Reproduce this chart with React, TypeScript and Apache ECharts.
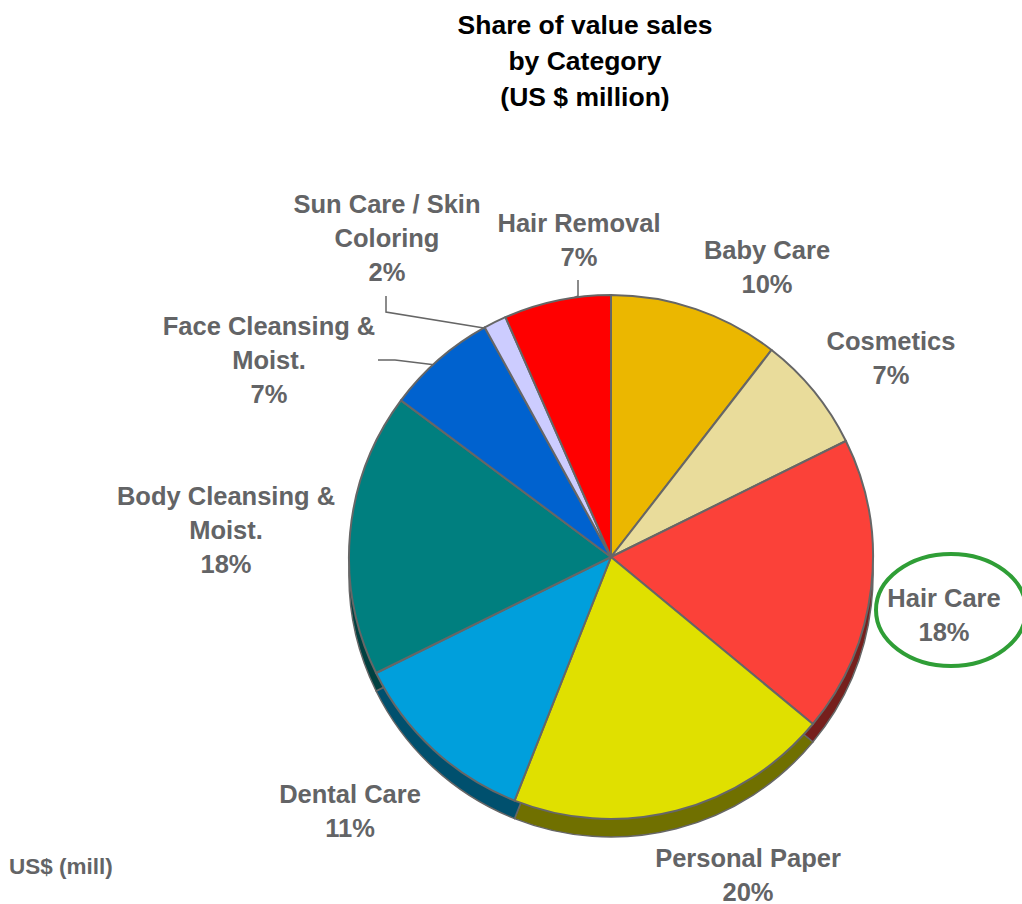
import React, { useEffect, useRef } from "react";
import * as echarts from "echarts";

const categories = [
  "Baby Care",
  "Cosmetics",
  "Hair Care",
  "Personal Paper",
  "Dental Care",
  "Body Cleansing &\nMoist.",
  "Face Cleansing &\nMoist.",
  "Sun Care / Skin\nColoring",
  "Hair Removal",
];
const values = [10.5, 7.2, 18.3, 20.0, 11.7, 17.5, 6.8, 1.4, 6.6];
const percentLabels = ["10%", "7%", "18%", "20%", "11%", "18%", "7%", "2%", "7%"];
const colors = ["#EBB700", "#E9DC9B", "#FB4139", "#E0E000", "#009FDC", "#007F7F", "#0062CF", "#CCCCFF", "#FF0000"];
const darkColors = ["#755B00", "#746E4D", "#761F1C", "#707000", "#00506E", "#004040", "#003167", "#666680", "#800000"];
const labelCenters = [
  [767, 267], [891, 358], [944, 615], [748, 875], [350, 811], [226, 530], [269, 360], [387, 238], [579, 240],
];
const leaderLines = [
  [[386, 296], [386, 312], [490, 329]],
  [[578, 280], [578, 296], [560, 304]],
  [[378, 360], [395, 360], [436, 365]],
];
const titleLines = ["Share of value sales", "by Category", "(US $ million)"];

const FONT = '"Liberation Sans", Arial, sans-serif';
const GREY = "#636466";
const CENTER = [611, 557];
const RADIUS = 262;
const DEPTH = 18;

export default function App() {
  const ref = useRef<HTMLDivElement>(null);
  useEffect(() => {
    const chart = echarts.init(ref.current!, null, { renderer: "svg" });
    chart.setOption({
      animation: false,
      backgroundColor: "#ffffff",
      title: {
        text: titleLines.join("\n"),
        left: 580,
        top: 2,
        textAlign: "center",
        textStyle: { fontFamily: FONT, fontWeight: "bold", fontSize: 26.5, lineHeight: 36, color: "#000000" },
      },
      series: [
        {
          type: "pie",
          silent: true,
          center: [CENTER[0], CENTER[1] + DEPTH],
          radius: RADIUS,
          startAngle: 90,
          clockwise: true,
          label: { show: false },
          labelLine: { show: false },
          itemStyle: { borderColor: "#666666", borderWidth: 1.5 },
          data: values.map((value, i) => ({
            value,
            name: categories[i],
            itemStyle: { color: darkColors[i] },
          })),
        },
        {
          type: "pie",
          center: CENTER,
          radius: RADIUS,
          startAngle: 90,
          clockwise: true,
          label: {
            show: true,
            position: "outside",
            overflow: "none",
            fontFamily: FONT,
            fontWeight: "bold",
            fontSize: 25.5,
            lineHeight: 34,
            color: GREY,
            align: "center",
            formatter: (p: any) => `${p.name}\n${percentLabels[p.dataIndex]}`,
          },
          labelLine: { show: false },
          labelLayout: (p: any) => ({
            x: labelCenters[p.dataIndex][0],
            y: labelCenters[p.dataIndex][1],
            align: "center",
            verticalAlign: "middle",
            hideOverlap: false,
          }),
          itemStyle: { borderColor: "#666666", borderWidth: 2 },
          data: values.map((value, i) => ({
            value,
            name: categories[i],
            itemStyle: { color: colors[i] },
          })),
        },
      ],
      graphic: [
        ...leaderLines.map((points) => ({
          type: "polyline",
          shape: { points },
          style: { stroke: "#666666", lineWidth: 1.5, fill: "none" },
        })),
        {
          type: "ellipse",
          shape: { cx: 951, cy: 610, rx: 75, ry: 56 },
          style: { stroke: "#2F9E36", lineWidth: 4, fill: "none" },
        },
        {
          type: "text",
          x: 9,
          y: 855,
          style: { text: "US$ (mill)", fontFamily: FONT, fontWeight: "bold", fontSize: 22.5, fill: GREY },
        },
      ],
    });
    return () => chart.dispose();
  }, []);
  return <div ref={ref} style={{ position: "absolute", left: 0, top: 0, width: 1022, height: 904 }} />;
}
